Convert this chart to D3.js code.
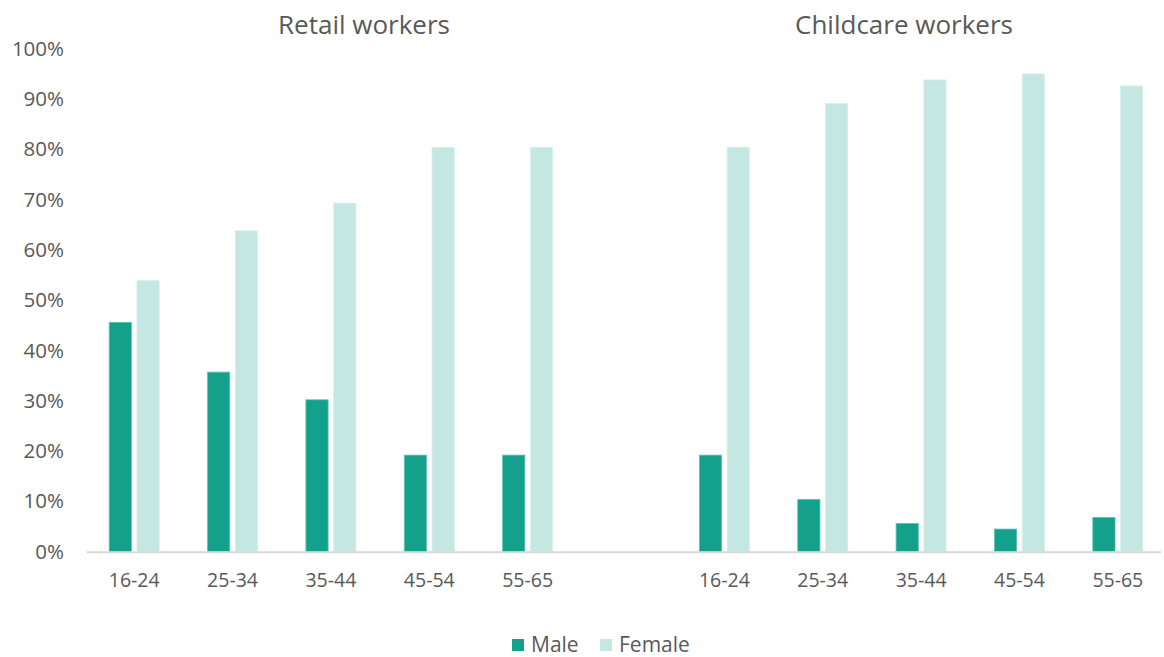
<!DOCTYPE html>
<html>
<head>
<meta charset="utf-8">
<script src="https://cdn.jsdelivr.net/npm/d3@7"></script>
<style>
  html, body { margin: 0; padding: 0; background: #fff; }
  svg { display: block; font-family: "Open Sans", "Noto Sans", sans-serif; }
</style>
</head>
<body>
<svg id="chart" width="1164" height="657"></svg>
<script>
// Age bands shown under each panel
const ageGroups = ["16-24", "25-34", "35-44", "45-54", "55-65"];
const panels = ["Retail workers", "Childcare workers"];
const seriesNames = ["Male", "Female"];

// Share of workers by sex (fraction of 1)
const retailMale     = [0.456, 0.357, 0.302, 0.192, 0.192];
const retailFemale   = [0.539, 0.638, 0.693, 0.804, 0.804];
const childcareMale  = [0.192, 0.104, 0.056, 0.045, 0.068];
const childcareFemale= [0.804, 0.891, 0.938, 0.950, 0.926];

const yTicks = [0, 0.1, 0.2, 0.3, 0.4, 0.5, 0.6, 0.7, 0.8, 0.9, 1.0];

const colors = { Male: "#13a18b", Female: "#c5e7e1" };
const textColor = "#595959";

// Build slots: 5 retail groups, one empty slot, 5 childcare groups
const rows = [];
ageGroups.forEach((g, i) => rows.push({ key: "r" + i, label: g, Male: retailMale[i], Female: retailFemale[i] }));
rows.push({ key: "gap", label: "", Male: null, Female: null });
ageGroups.forEach((g, i) => rows.push({ key: "c" + i, label: g, Male: childcareMale[i], Female: childcareFemale[i] }));

const svg = d3.select("#chart");

const x = d3.scaleBand()
  .domain(rows.map(d => d.key))
  .range([85, 1167])
  .paddingInner(0).paddingOuter(0);

const xSeries = d3.scaleBand()
  .domain(seriesNames)
  .range([-25, 25])
  .paddingInner(0.2);

const y = d3.scaleLinear().domain([0, 1]).range([551.7, 48.7]);

// Y axis labels
const yAxis = d3.axisLeft(y)
  .tickValues(yTicks)
  .tickFormat(d3.format(".0%"))
  .tickSize(0)
  .tickPadding(0);

const yg = svg.append("g")
  .attr("transform", "translate(64,0)")
  .call(yAxis);
yg.select(".domain").remove();
yg.selectAll("text")
  .attr("fill", textColor)
  .style("font-size", "20.5px")
  .style("font-family", "'Open Sans', sans-serif");

// Bars
const groups = svg.append("g").selectAll("g")
  .data(rows.filter(d => d.Male !== null))
  .join("g")
  .attr("transform", d => `translate(${x(d.key) + x.bandwidth() / 2},0)`);

groups.selectAll("rect")
  .data(d => seriesNames.map(s => ({ s, v: d[s] })))
  .join("rect")
  .attr("x", d => xSeries(d.s))
  .attr("width", xSeries.bandwidth())
  .attr("y", d => y(d.v))
  .attr("height", d => y(0) - y(d.v))
  .attr("fill", d => colors[d.s])
  .attr("stroke", d => d.s === "Male" ? "#5cc3b1" : "#d8f0ec")
  .attr("stroke-width", 0.8);

// Baseline
svg.append("line")
  .attr("x1", 87).attr("x2", 1161)
  .attr("y1", y(0) + 0.5).attr("y2", y(0) + 0.5)
  .attr("stroke", "#d9d9d9")
  .attr("stroke-width", 2);

// X axis labels
const xAxis = d3.axisBottom(x)
  .tickFormat(k => rows.find(r => r.key === k).label)
  .tickSize(0)
  .tickPadding(0);
const xg = svg.append("g")
  .attr("transform", `translate(0,${y(0) + 21})`)
  .call(xAxis);
xg.select(".domain").remove();
xg.selectAll("text")
  .attr("fill", textColor)
  .style("font-size", "19.5px")
  .style("font-family", "'Open Sans', sans-serif");

// Panel titles
svg.append("g").selectAll("text")
  .data(panels)
  .join("text")
  .attr("x", (d, i) => i === 0 ? 364 : 904)
  .attr("y", 34)
  .attr("text-anchor", "middle")
  .attr("fill", textColor)
  .style("font-size", "26px")
  .text(d => d);

// Legend
const legend = svg.append("g").attr("transform", "translate(0,645)");
const legendItems = [{ s: "Male", x: 512 }, { s: "Female", x: 600 }];
legendItems.forEach(it => {
  legend.append("rect")
    .attr("x", it.x).attr("y", -6)
    .attr("width", 12).attr("height", 12)
    .attr("fill", colors[it.s]);
  legend.append("text")
    .attr("x", it.x + 19).attr("y", 0)
    .attr("dy", "0.35em")
    .attr("fill", textColor)
    .style("font-size", "21px")
    .text(it.s);
});
</script>
</body>
</html>
